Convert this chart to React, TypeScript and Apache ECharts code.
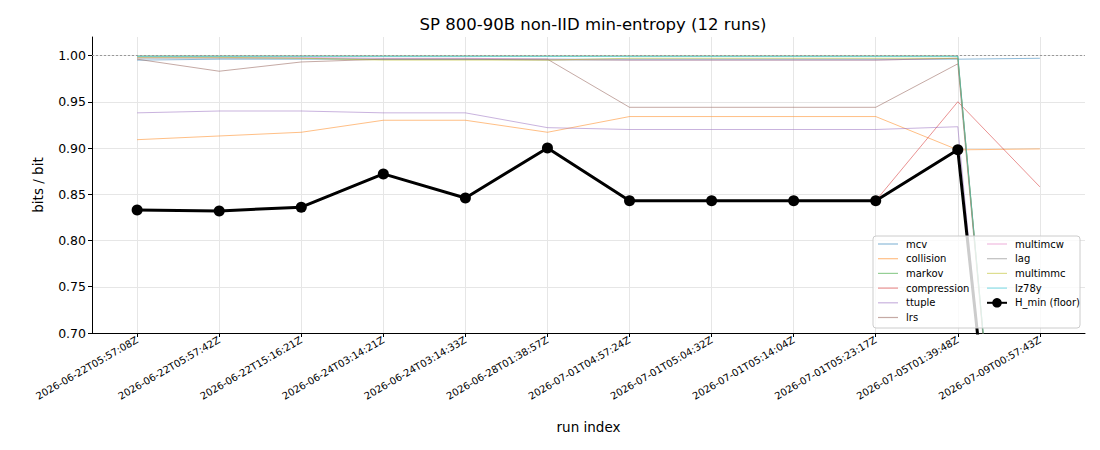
import React, { useEffect, useRef } from "react";
import * as echarts from "echarts";

const categories = [
  "2026-06-22T05:57:08Z",
  "2026-06-22T05:57:42Z",
  "2026-06-22T15:16:21Z",
  "2026-06-24T03:14:21Z",
  "2026-06-24T03:14:33Z",
  "2026-06-28T01:38:57Z",
  "2026-07-01T04:57:24Z",
  "2026-07-01T05:04:32Z",
  "2026-07-01T05:14:04Z",
  "2026-07-01T05:23:17Z",
  "2026-07-05T01:39:48Z",
  "2026-07-09T00:57:43Z",
];

const mcv = [0.995, 0.996, 0.996, 0.996, 0.996, 0.996, 0.996, 0.996, 0.996, 0.996, 0.996, 0.997];
const collision = [0.909, 0.913, 0.917, 0.93, 0.93, 0.917, 0.934, 0.934, 0.934, 0.934, 0.898, 0.899];
const markov = [0.9995, 0.9995, 0.9995, 0.9995, 0.9995, 0.9995, 0.9995, 0.9995, 0.9995, 0.9995, 0.9995, 0.03];
const compression = [0.833, 0.832, 0.836, 0.872, 0.846, 0.9, 0.843, 0.843, 0.843, 0.843, 0.95, 0.858];
const ttuple = [0.938, 0.94, 0.94, 0.938, 0.938, 0.922, 0.92, 0.92, 0.92, 0.92, 0.923, 0.0];
const lrs = [0.996, 0.983, 0.993, 0.996, 0.996, 0.996, 0.944, 0.944, 0.944, 0.944, 0.991, 0.03];
const multimcw = [0.998, 0.998, 0.998, 0.997, 0.997, 0.996, 0.995, 0.995, 0.995, 0.995, 0.997, 0.03];
const lag = [0.997, 0.997, 0.997, 0.996, 0.996, 0.995, 0.995, 0.995, 0.995, 0.995, 0.997, 0.03];
const multimmc = [0.998, 0.998, 0.997, 0.995, 0.995, 0.995, 0.997, 0.997, 0.997, 0.997, 0.997, 0.03];
const lz78y = [0.999, 0.999, 0.999, 0.999, 0.999, 0.999, 0.999, 0.999, 0.999, 0.999, 0.999, 0.03];
const hMin = [0.833, 0.832, 0.836, 0.872, 0.846, 0.9, 0.843, 0.843, 0.843, 0.843, 0.898, 0.07];

const yTicks = [0.7, 0.75, 0.8, 0.85, 0.9, 0.95, 1.0];

const estimators: [string, number[], string][] = [
  ["mcv", mcv, "#1f77b4"],
  ["collision", collision, "#ff7f0e"],
  ["markov", markov, "#2ca02c"],
  ["compression", compression, "#d62728"],
  ["ttuple", ttuple, "#9467bd"],
  ["lrs", lrs, "#8c564b"],
  ["multimcw", multimcw, "#e377c2"],
  ["lag", lag, "#7f7f7f"],
  ["multimmc", multimmc, "#bcbd22"],
  ["lz78y", lz78y, "#17becf"],
];

const FONT = "DejaVu Sans";
const LINE_ICON = "path://M0,0L20,0L20,1.2L0,1.2Z";

export default function App() {
  const ref = useRef<HTMLDivElement>(null);
  useEffect(() => {
    if (!ref.current) return;
    const chart = echarts.init(ref.current, null, { renderer: "svg" });
    const xIdx = categories.map((_, i) => i);
    const series: any[] = estimators.map(([name, vals, color]) => ({
      name,
      type: "line",
      data: vals.map((v, i) => [i, v]),
      symbol: "none",
      clip: true,
      lineStyle: { color, width: 1, opacity: 0.5 },
      itemStyle: { color, opacity: 0.5 },
      z: 2,
    }));
    series.push({
      name: "H_min (floor)",
      type: "line",
      data: hMin.map((v, i) => [i, v]),
      symbol: "circle",
      symbolSize: 11,
      clip: true,
      lineStyle: { color: "#000", width: 3 },
      itemStyle: { color: "#000" },
      z: 4,
      markLine: {
        silent: true,
        symbol: "none",
        label: { show: false },
        lineStyle: { color: "#999", type: [2, 2], width: 1 },
        data: [{ yAxis: 1.0 }],
        z: 3,
      },
    });
    const legendCommon = {
      orient: "vertical",
      top: 238,
      itemWidth: 20,
      itemHeight: 12,
      itemGap: 2.7,
      padding: 0,
      z: 60,
      textStyle: {
        fontFamily: FONT,
        fontSize: 10,
        color: "#000",
        lineHeight: 12,
        padding: [0, 0, 0, 3],
      },
    };
    const lineItem = (name: string) => ({ name, icon: LINE_ICON });
    chart.setOption({
      animation: false,
      textStyle: { fontFamily: FONT },
      title: {
        text: "SP 800-90B non-IID min-entropy (12 runs)",
        left: 588,
        textAlign: "center",
        top: 11,
        textStyle: { fontFamily: FONT, fontSize: 16.5, fontWeight: "normal", color: "#000" },
      },
      grid: { left: 92, right: 15, top: 37, bottom: 117 },
      xAxis: {
        type: "value",
        min: -0.55,
        max: 11.55,
        name: "run index",
        nameLocation: "middle",
        nameGap: 87,
        nameMoveOverlap: false,
        nameTextStyle: { fontFamily: FONT, fontSize: 13.5, color: "#000" },
        axisLine: { show: true, onZero: false, lineStyle: { color: "#000", width: 1 } },
        axisTick: { show: true, customValues: xIdx, length: 4, lineStyle: { color: "#000" } },
        axisLabel: {
          customValues: xIdx,
          rotate: 30,
          margin: 6,
          fontFamily: FONT,
          fontSize: 10,
          color: "#000",
          formatter: (v: number) => categories[Math.round(v)] ?? "",
        },
        splitLine: { show: true, lineStyle: { color: "#e6e6e6", width: 1 } },
      },
      yAxis: {
        type: "value",
        min: 0.7,
        max: 1.02,
        name: "bits / bit",
        nameLocation: "middle",
        nameGap: 47,
        nameMoveOverlap: false,
        nameTextStyle: { fontFamily: FONT, fontSize: 13.5, color: "#000" },
        axisLine: { show: true, onZero: false, lineStyle: { color: "#000", width: 1 } },
        axisTick: { show: true, customValues: yTicks, length: 4, lineStyle: { color: "#000" } },
        axisLabel: {
          customValues: yTicks,
          margin: 6,
          fontFamily: FONT,
          fontSize: 12.5,
          color: "#000",
          formatter: (v: number) => v.toFixed(2),
        },
        splitLine: { show: true, lineStyle: { color: "#e6e6e6", width: 1 } },
      },
      legend: [
        {
          ...legendCommon,
          left: 878,
          data: ["mcv", "collision", "markov", "compression", "ttuple", "lrs"].map(lineItem),
        },
        {
          ...legendCommon,
          left: 986,
          data: [
            ...["multimcw", "lag", "multimmc", "lz78y"].map(lineItem),
            { name: "H_min (floor)" },
          ],
        },
      ],
      graphic: [
        {
          type: "rect",
          z: 50,
          shape: { x: 873, y: 236, width: 207, height: 92, r: 3 },
          style: { fill: "rgba(255,255,255,0.8)", stroke: "#cccccc", lineWidth: 1 },
        },
      ],
      series,
    });
    return () => chart.dispose();
  }, []);
  return (
    <div
      ref={ref}
      style={{ position: "absolute", left: 0, top: 0, width: 1100, height: 450 }}
    />
  );
}
